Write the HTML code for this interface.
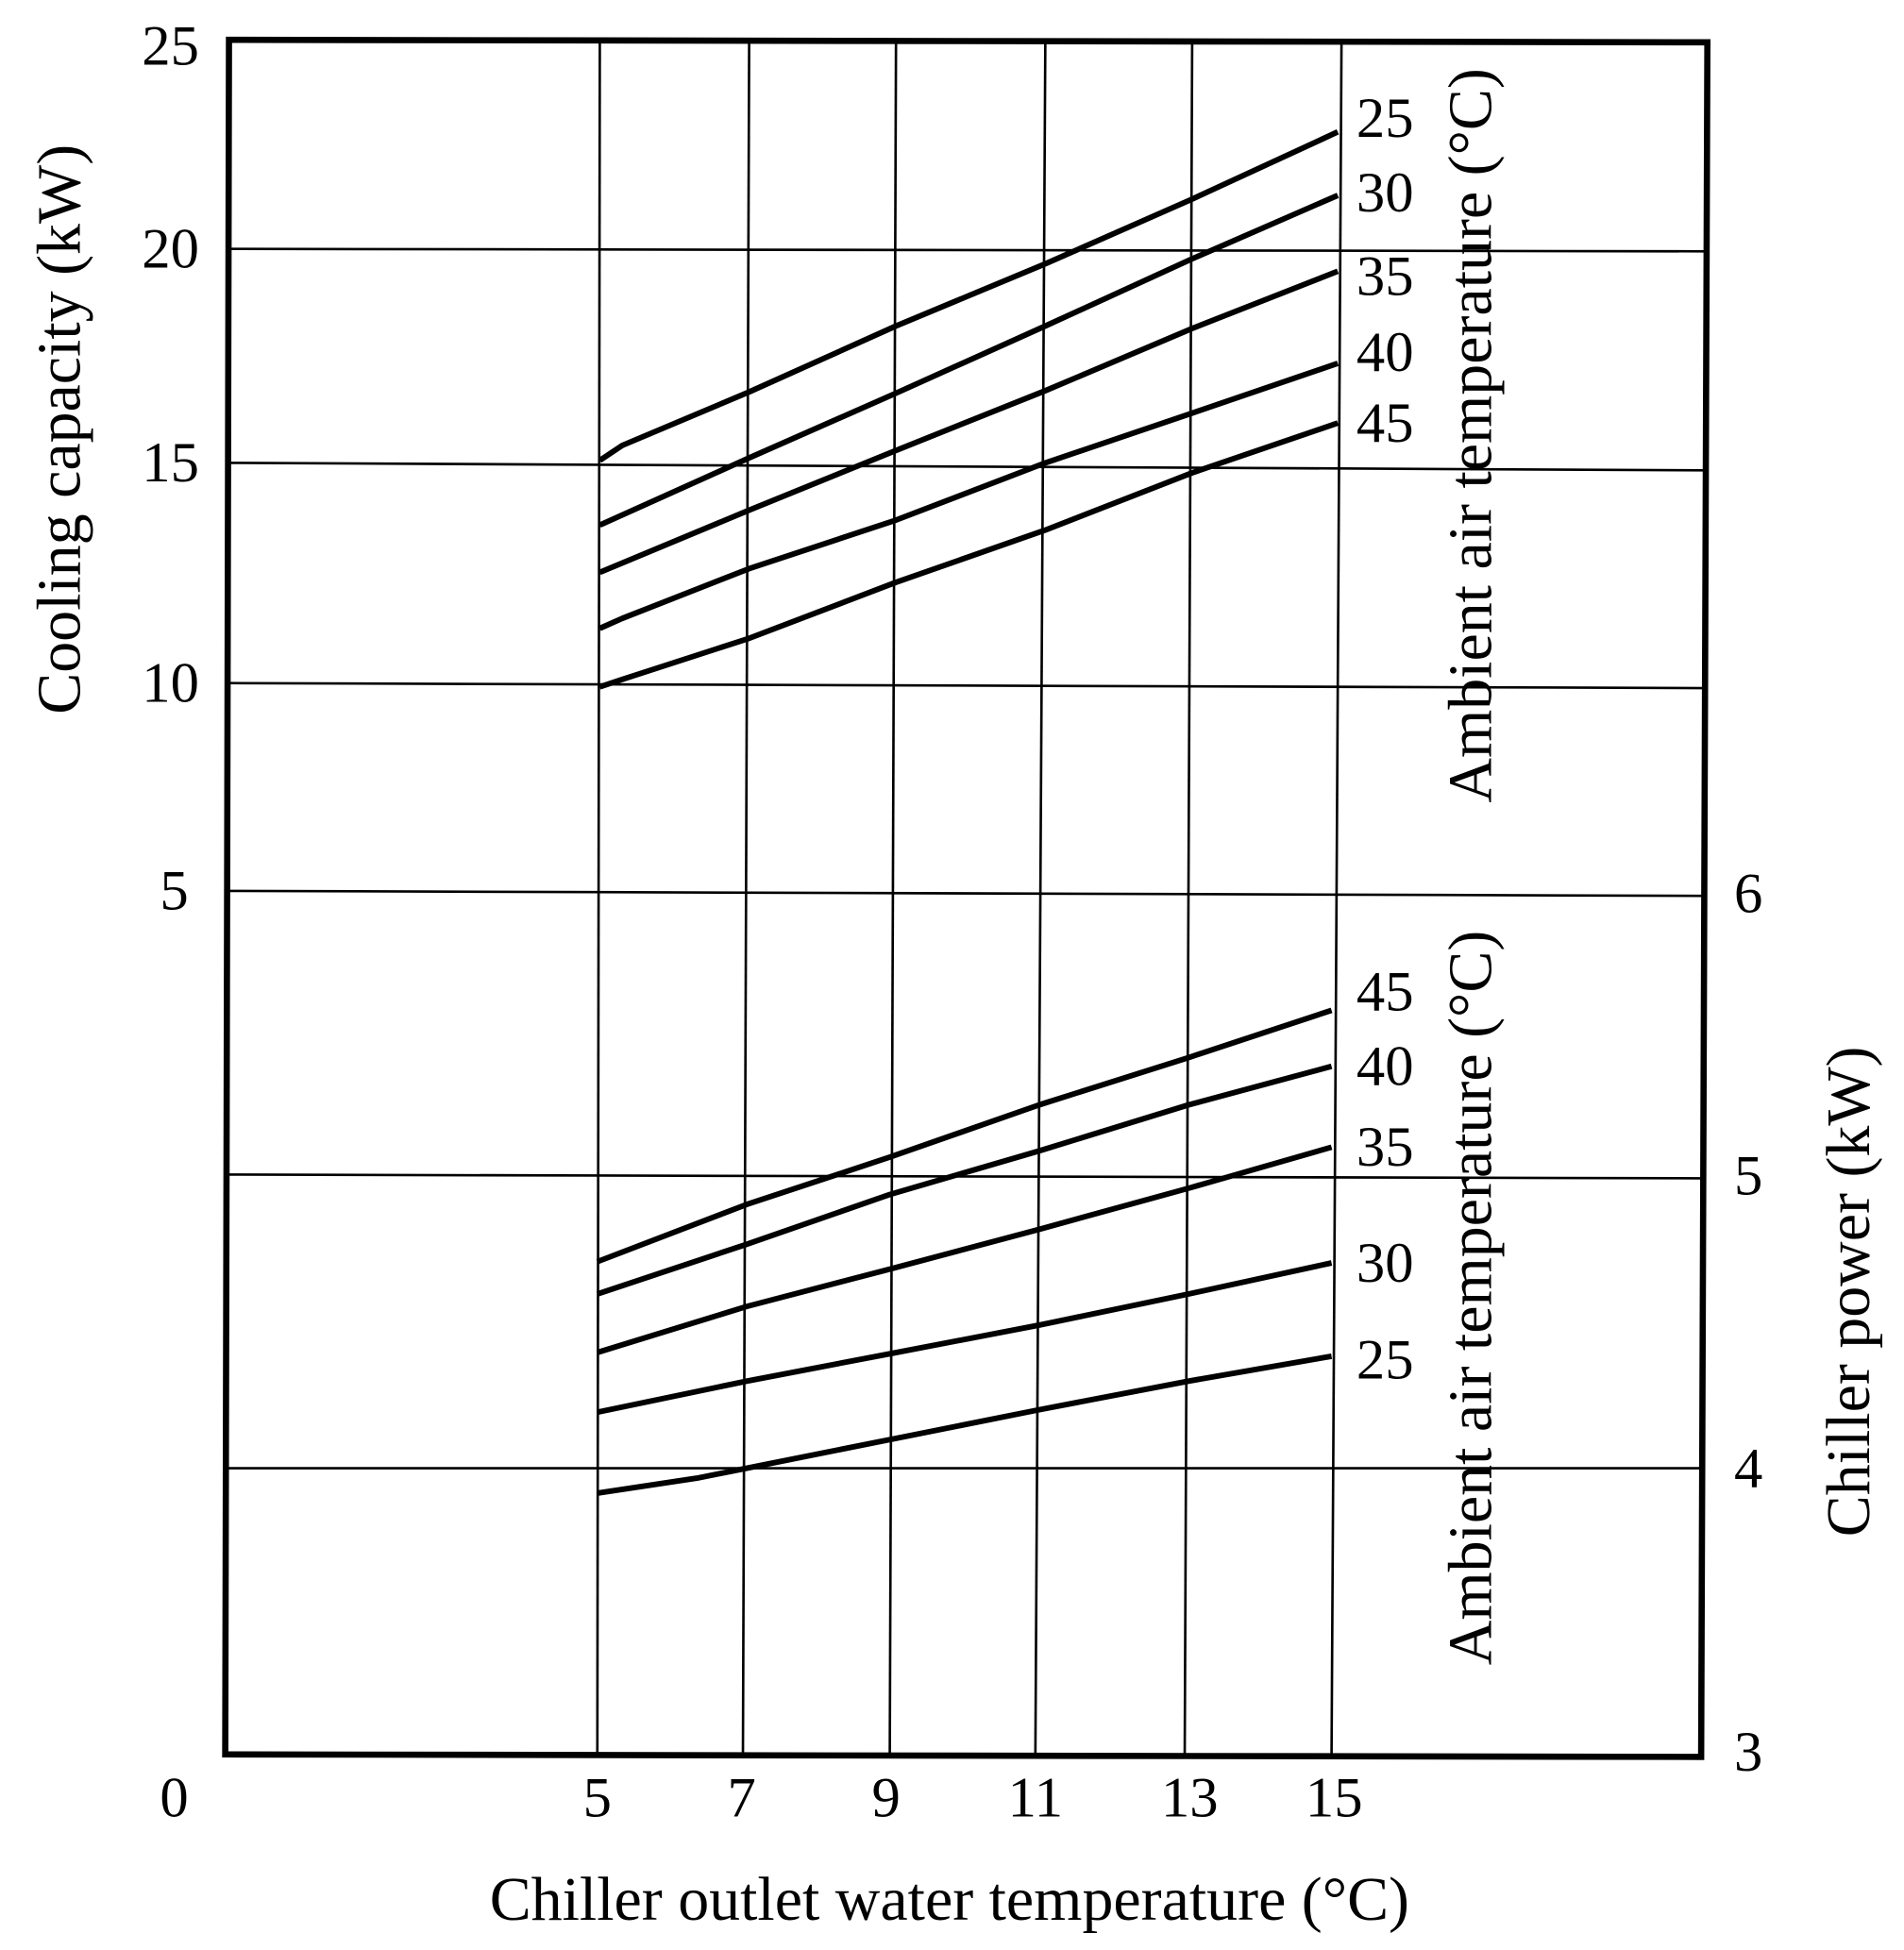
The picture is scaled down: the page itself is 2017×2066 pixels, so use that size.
<!DOCTYPE html>
<html><head><meta charset="utf-8"><style>
html,body{margin:0;padding:0;background:#fff}
svg{display:block}
text{font-family:"Liberation Serif",serif;fill:#000}
</style></head><body>
<svg width="2017" height="2066" viewBox="0 0 1530 1567.2" preserveAspectRatio="none" xmlns="http://www.w3.org/2000/svg">
<g stroke="#000" stroke-width="2" fill="none">
<line x1="183" y1="200" x2="1370" y2="202"/>
<line x1="183" y1="372" x2="1370" y2="378"/>
<line x1="183" y1="549" x2="1370" y2="553"/>
<line x1="183" y1="716" x2="1370" y2="720"/>
<line x1="182" y1="944" x2="1369" y2="947"/>
<line x1="181" y1="1180" x2="1368" y2="1180"/>
<line x1="482" y1="32" x2="480" y2="1410"/>
<line x1="602" y1="32" x2="597" y2="1410"/>
<line x1="720" y1="32" x2="715" y2="1410"/>
<line x1="840" y1="32" x2="832" y2="1410"/>
<line x1="958" y1="32" x2="952" y2="1410"/>
<line x1="1078" y1="32" x2="1070" y2="1410"/>
</g>
<path d="M184,32 L1372,34 L1367,1412 L181,1410 Z" stroke="#000" stroke-width="5" fill="none"/>
<g stroke="#000" stroke-width="4.5" fill="none" stroke-linejoin="round">
<polyline points="482,370 500,358 602,315 720,262 840,212 958,160 1075,106"/>
<polyline points="482,422 602,368 720,316 840,262 958,208 1075,157"/>
<polyline points="482,460 602,410 720,362 840,314 958,264 1075,218"/>
<polyline points="482,505 500,497 602,457 720,418 840,372 958,332 1075,292"/>
<polyline points="482,552 500,546 602,513 720,468 840,426 958,380 1075,340"/>
<polyline points="480,1014 600,968 715,930 835,888 955,850 1070,812"/>
<polyline points="480,1040 600,1000 715,960 835,925 955,888 1070,857"/>
<polyline points="480,1087 600,1050 715,1020 835,988 955,955 1070,922"/>
<polyline points="480,1135 600,1110 715,1088 835,1065 955,1040 1070,1015"/>
<polyline points="480,1200 560,1188 600,1180 715,1157 835,1133 955,1110 1070,1090"/>
</g>
<g font-size="46" text-anchor="middle">
<text x="137" y="52">25</text>
<text x="137" y="215">20</text>
<text x="137" y="387">15</text>
<text x="137" y="564">10</text>
<text x="140" y="731">5</text>
<text x="140" y="1460">0</text>
<text x="1405" y="733">6</text>
<text x="1405" y="960">5</text>
<text x="1405" y="1195">4</text>
<text x="1405" y="1423">3</text>
<text x="480" y="1460">5</text>
<text x="596" y="1460">7</text>
<text x="712" y="1460">9</text>
<text x="832" y="1460">11</text>
<text x="956" y="1460">13</text>
<text x="1072" y="1460">15</text>
</g>
<g font-size="46" text-anchor="start">
<text x="1090" y="110">25</text>
<text x="1090" y="170">30</text>
<text x="1090" y="237">35</text>
<text x="1090" y="298">40</text>
<text x="1090" y="355">45</text>
<text x="1090" y="812">45</text>
<text x="1090" y="872">40</text>
<text x="1090" y="937">35</text>
<text x="1090" y="1030">30</text>
<text x="1090" y="1108">25</text>
</g>
<text x="763" y="1543" font-size="50" text-anchor="middle">Chiller outlet water temperature (°C)</text>
<text transform="translate(64,345) rotate(-90)" font-size="50" text-anchor="middle">Cooling capacity (kW)</text>
<text transform="translate(1502,1038) rotate(-90)" font-size="50" text-anchor="middle">Chiller power (kW)</text>
<text transform="translate(1198,350) rotate(-90)" font-size="50" text-anchor="middle">Ambient air temperature (°C)</text>
<text transform="translate(1198,1043) rotate(-90)" font-size="50" text-anchor="middle">Ambient air temperature (°C)</text>
</svg>
</body></html>
